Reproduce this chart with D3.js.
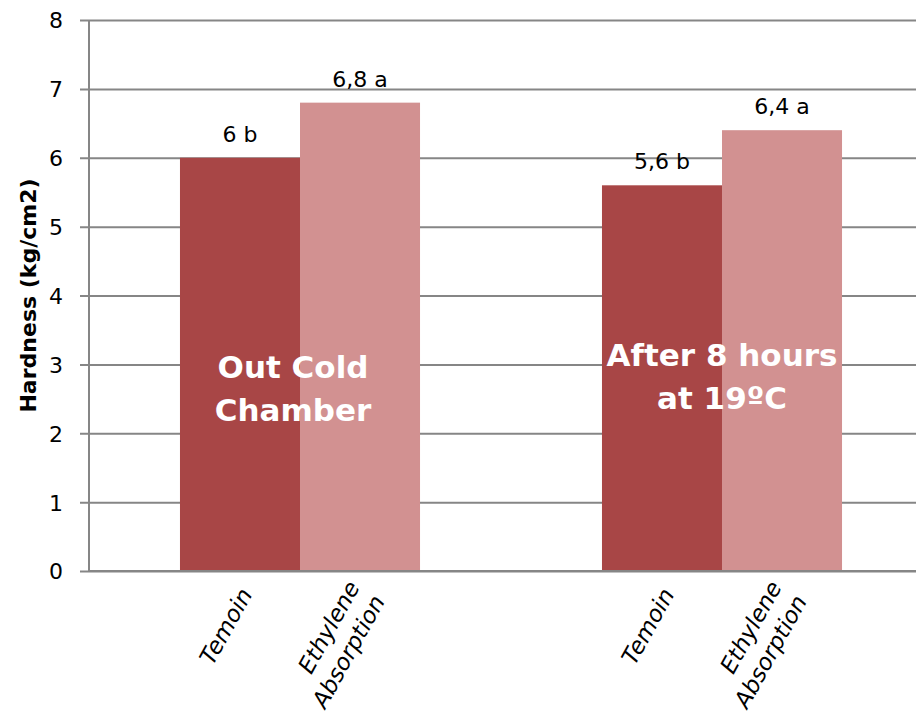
<!DOCTYPE html>
<html>
<head>
<meta charset="utf-8">
<script src="https://cdn.jsdelivr.net/npm/d3@7"></script>
<style>
  html, body { margin: 0; padding: 0; background: #fff; }
  svg { display: block; }
  text { font-family: "DejaVu Sans", sans-serif; }
</style>
</head>
<body>
<svg id="chart" width="916" height="721"></svg>
<script>
// Hardness per storage condition and treatment
const conditions = ["Out Cold Chamber", "After 8 hours at 19ºC"];
const conditionLines = [["Out Cold", "Chamber"], ["After 8 hours", "at 19ºC"]];
const treatments = ["Temoin", "Ethylene Absorption"];
const treatmentLines = [["Temoin"], ["Ethylene", "Absorption"]];
const temoin = [6, 5.6];
const ethylene = [6.8, 6.4];
const temoinLetters = ["b", "b"];
const ethyleneLetters = ["a", "a"];
const yTicks = [0, 1, 2, 3, 4, 5, 6, 7, 8];
const yTitle = "Hardness (kg/cm2)";
const colors = ["#a84646", "#d29191"];

const rows = conditions.map((c, i) => ({
  condition: c,
  lines: conditionLines[i],
  bars: [
    { treatment: treatments[0], value: temoin[i], letter: temoinLetters[i] },
    { treatment: treatments[1], value: ethylene[i], letter: ethyleneLetters[i] }
  ]
}));

const svg = d3.select("#chart");
const plotLeft = 89, plotTop = 20, plotBottom = 571, plotRight = 933;

const y = d3.scaleLinear().domain([0, 8]).range([plotBottom, plotTop]);
const x0 = d3.scaleBand().domain(conditions).range([plotLeft, plotRight]);
const x1 = d3.scaleBand().domain(treatments).range([0, x0.bandwidth()]).paddingOuter(0.758);
const color = d3.scaleOrdinal().domain(treatments).range(colors);

const fmt = v => String(v).replace(".", ",");

// gridlines + ticks
const yAxis = d3.axisLeft(y).tickValues(yTicks).tickSize(0).tickPadding(26);
const gy = svg.append("g").attr("transform", `translate(${plotLeft},0)`).call(yAxis);
gy.select(".domain").remove();
gy.selectAll(".tick line").attr("x1", -9).attr("x2", plotRight - plotLeft)
  .attr("stroke", "#868686").attr("stroke-width", 2);
gy.selectAll(".tick text").attr("font-size", 22).attr("fill", "#000")
  .attr("font-family", "DejaVu Sans, sans-serif").attr("dy", "0.36em");

// vertical axis line
svg.append("line").attr("x1", plotLeft).attr("x2", plotLeft).attr("y1", plotTop).attr("y2", plotBottom)
  .attr("stroke", "#868686").attr("stroke-width", 2);

// bars
const groups = svg.append("g").selectAll("g").data(rows).join("g")
  .attr("transform", d => `translate(${x0(d.condition)},0)`);

groups.selectAll("rect").data(d => d.bars).join("rect")
  .attr("x", d => x1(d.treatment))
  .attr("width", x1.bandwidth())
  .attr("y", d => y(d.value))
  .attr("height", d => y(0) - y(d.value))
  .attr("fill", d => color(d.treatment));

// value labels
groups.selectAll("text.val").data(d => d.bars).join("text")
  .attr("class", "val")
  .attr("x", d => x1(d.treatment) + x1.bandwidth() / 2)
  .attr("y", d => y(d.value) - 16)
  .attr("text-anchor", "middle")
  .attr("font-size", 22)
  .attr("fill", "#000")
  .text(d => `${fmt(d.value)} ${d.letter}`);

// x axis baseline
svg.append("line").attr("x1", plotLeft).attr("x2", 916).attr("y1", plotBottom).attr("y2", plotBottom)
  .attr("stroke", "#868686").attr("stroke-width", 2);

// condition labels inside bars
const labelShift = [-7, 0];
const labelBase = [378, 366];
groups.append("text")
  .attr("y", (d, i) => labelBase[i])
  .attr("text-anchor", "middle")
  .attr("font-size", 31)
  .attr("font-weight", "bold")
  .attr("fill", "#fff")
  .each(function (d, gi) {
    d3.select(this).selectAll("tspan").data(d.lines).join("tspan")
      .attr("x", x0.bandwidth() / 2 + labelShift[gi])
      .attr("dy", (t, i) => i === 0 ? 0 : 43)
      .text(t => t);
  });

// rotated treatment labels
groups.selectAll("g.tl").data(d => d.bars.map((b, i) => ({ ...b, lines: treatmentLines[i] }))).join("g")
  .attr("class", "tl")
  .attr("transform", d => `translate(${x1(d.treatment) + x1.bandwidth() / 2 + 6},${plotBottom + 19}) rotate(-61)`)
  .each(function (d) {
    const n = d.lines.length;
    d3.select(this).selectAll("text").data(d.lines).join("text")
      .attr("text-anchor", "end")
      .attr("font-size", 23)
      .attr("font-style", "italic")
      .attr("fill", "#000")
      .attr("x", 0)
      .attr("y", (t, i) => (i - (n - 1) / 2) * 29 + 8)
      .text(t => t);
  });

// y axis title
svg.append("text")
  .attr("transform", `translate(36,${(plotTop + plotBottom) / 2}) rotate(-90)`)
  .attr("text-anchor", "middle")
  .attr("font-family", "Liberation Sans, Arial, sans-serif")
  .attr("font-size", 22)
  .attr("font-weight", "bold")
  .attr("fill", "#000")
  .text(yTitle);
</script>
</body>
</html>
